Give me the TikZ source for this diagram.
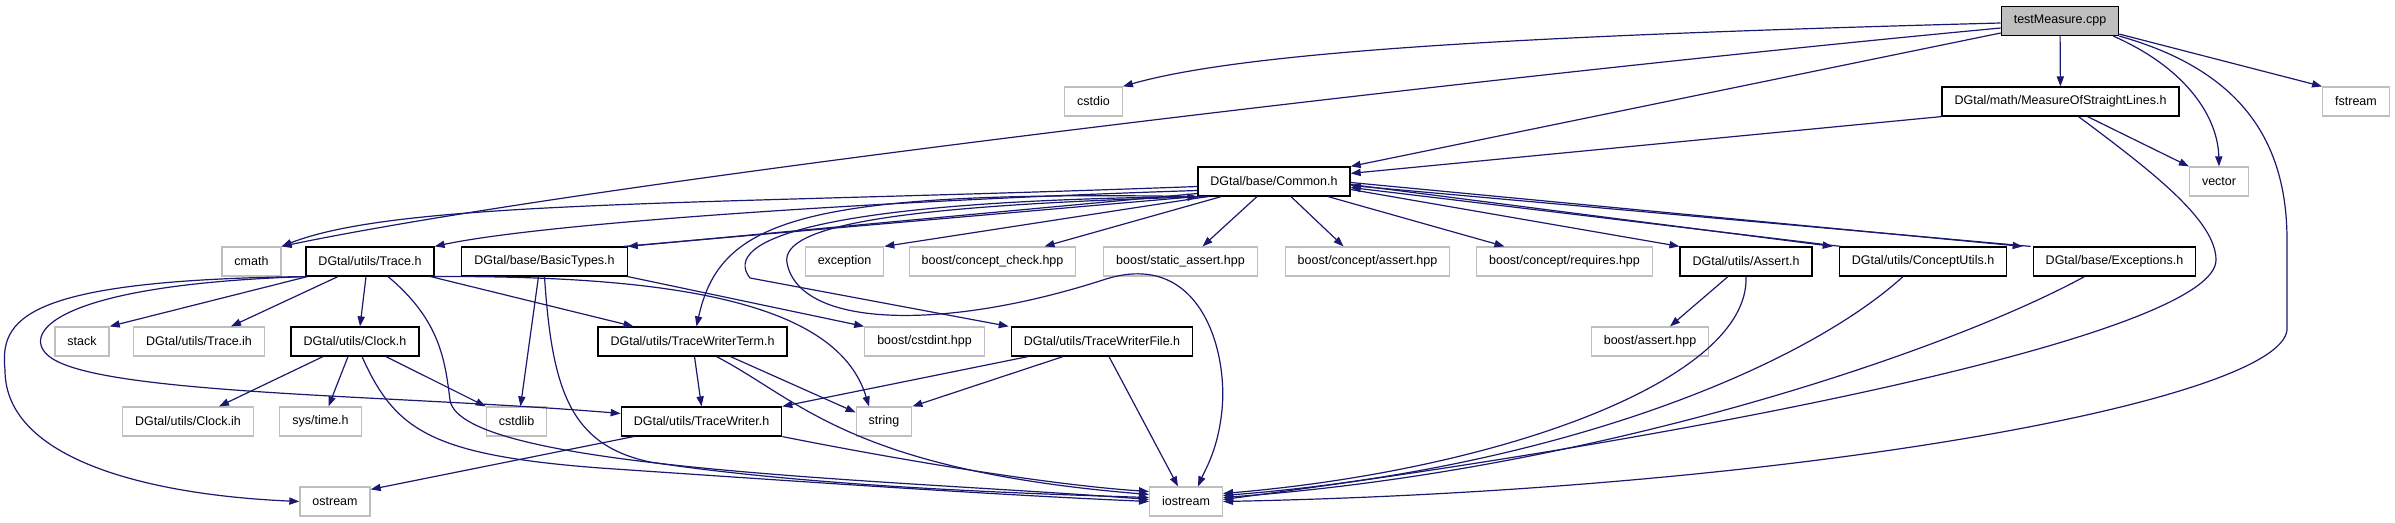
\documentclass[tikz,border=0pt]{standalone}
\usepackage{fontspec}
\setmainfont{Liberation Sans}
\usetikzlibrary{arrows.meta}
\definecolor{inclblue}{HTML}{191970}
\definecolor{sysgray}{HTML}{BFBFBF}
\tikzset{
  box/.style={rectangle,inner xsep=6.25pt,inner ysep=0pt,minimum height=14.5pt,
    font=\fontsize{6.25}{7.5}\selectfont,line width=0.6pt},
  header/.style={box,draw=black,fill=white},
  sysheader/.style={box,draw=sysgray,fill=white},
  mainfile/.style={box,draw=black,fill=sysgray},
  incl/.style={draw=inclblue,line width=0.6pt,-{Triangle[length=5pt,width=3.6pt]}}
}

\begin{document}
\begin{tikzpicture}[x=0.5pt,y=-0.5pt]
  \useasboundingbox (0,0) rectangle (2395,523);
  % files of the project
  \node[mainfile] (tm) at (2060,21) {testMeasure.cpp};
  \node[header] (mosl) at (2060.5,101.5) {DGtal/math/MeasureOfStraightLines.h};
  \node[header] (common) at (1274,181.5) {DGtal/base/Common.h};
  \node[header] (trace) at (370,261.5) {DGtal/utils/Trace.h};
  \node[header] (basictypes) at (544.5,261.5) {DGtal/base/BasicTypes.h};
  \node[header] (assert) at (1746,261.5) {DGtal/utils/Assert.h};
  \node[header] (conceptutils) at (1923,261.5) {DGtal/utils/ConceptUtils.h};
  \node[header] (exceptions) at (2114.5,261.5) {DGtal/base/Exceptions.h};
  \node[header] (clock) at (355,341.5) {DGtal/utils/Clock.h};
  \node[header] (twterm) at (692.5,341.5) {DGtal/utils/TraceWriterTerm.h};
  \node[header] (twfile) at (1102,341.5) {DGtal/utils/TraceWriterFile.h};
  \node[header] (twriter) at (701.5,421.5) {DGtal/utils/TraceWriter.h};
  % system and library headers
  \foreach \name/\x/\y/\txt in {
      cstdio/1093.5/101.5/cstdio, fstream/2356/101.5/fstream,
      vector/2219/181.5/vector,
      cmath/251.5/261.5/cmath, exception/844.5/261.5/exception,
      conceptcheck/992.5/261.5/{boost/concept\_check.hpp},
      staticassert/1180.5/261.5/{boost/static\_assert.hpp},
      conceptassert/1367.5/261.5/{boost/concept/assert.hpp},
      conceptreq/1564.5/261.5/{boost/concept/requires.hpp},
      stack/82/341.5/stack, traceih/199/341.5/{DGtal/utils/Trace.ih},
      cstdint/924.5/341.5/{boost/cstdint.hpp},
      boostassert/1650/341.5/{boost/assert.hpp},
      clockih/188/421.5/{DGtal/utils/Clock.ih}, systime/320.5/421.5/{sys/time.h},
      cstdlib/516.5/421.5/cstdlib, string/884/421.5/string,
      ostream/335/501.5/ostream, iostream/1186/501.5/iostream}
    \node[sysheader] (\name) at (\x,\y) {\txt};

  % testMeasure.cpp
  \draw[incl] ([yshift=-1pt]tm.west) .. controls (1550,35) and (1250,50) .. (cstdio.north east);
  \draw[incl] ([yshift=-3.5pt]tm.west) .. controls (1500,75) and (600,180) .. (cmath.north east);
  \draw[incl] ([yshift=-6pt]tm.west) -- (common.north east);
  \draw[incl] (tm) -- (mosl);
  \draw[incl] ([xshift=-3pt]tm.south east) .. controls (2190,70) and (2218,120) .. (vector.north);
  \draw[incl] (tm.south east) .. controls (2240,70) and (2287,140) .. (2287,240)
    -- (2287,330) .. controls (2280,400) and (1800,490) .. (iostream.east);
  \draw[incl] ([yshift=1pt]tm.south east) -- (fstream.north west);
  % MeasureOfStraightLines.h
  \draw[incl] (mosl.south west) -- ([yshift=-3.5pt]common.north east);
  \draw[incl] ([xshift=13.5pt]mosl.south) -- (vector.north west);
  \draw[incl] ([xshift=9pt]mosl.south) .. controls (2150,170) and (2216,220) .. (2216,260)
    .. controls (2216,330) and (1750,430) .. ([yshift=1pt]iostream.east);
  % Common.h
  \draw[incl] ([yshift=-2.5pt]common.west) .. controls (700,205) and (400,200) .. (cmath.north east);
  \draw[incl] ([yshift=-4.5pt]common.west) .. controls (900,200) and (550,222) .. (trace.north east);
  \draw[incl] ([yshift=-6pt]common.west) -- (basictypes.north east);
  \draw[incl] ([xshift=-2pt]basictypes.north east) -- ([yshift=-7.5pt]common.west);
  \draw[incl] (common.south west) .. controls (800,190) and (720,220) .. ([xshift=2pt]twterm.north);
  \draw[incl] ([xshift=3pt]common.south west) .. controls (820,200) and (720,240) .. (750,278)
    -- ([xshift=-1pt]twfile.north west);
  \draw[incl] ([xshift=6pt]common.south west) .. controls (900,205) and (780,225) .. (787,263)
    .. controls (800,330) and (950,330) .. (1106,279)
    .. controls (1200,250) and (1228,350) .. (1222,410)
    .. controls (1218,450) and (1205,470) .. ([xshift=6pt]iostream.north);
  \draw[incl] ([xshift=5pt]common.south west) -- (exception.north east);
  \draw[incl] ([xshift=12pt]common.south west) -- ([xshift=26pt]conceptcheck.north);
  \draw[incl] ([xshift=-8.5pt]common.south) -- ([xshift=11pt]staticassert.north);
  \draw[incl] ([xshift=8.5pt]common.south) -- ([xshift=-12pt]conceptassert.north);
  \draw[incl] ([xshift=27pt]common.south) -- ([xshift=-30pt]conceptreq.north);
  \draw[incl] ([yshift=-4pt]common.east) -- (assert.north west);
  \draw[incl] ([yshift=-1.5pt]common.east) -- ([xshift=-3pt]conceptutils.north west);
  \draw[incl] ([xshift=1pt]conceptutils.north west) -- ([yshift=-3pt]common.east);
  \draw[incl] ([yshift=-0.5pt]common.east) -- ([xshift=-5pt]exceptions.north west);
  \draw[incl] ([xshift=-1pt]exceptions.north west) -- ([yshift=-2pt]common.east);
  % Trace.h
  \draw[incl] ([xshift=1pt]trace.south west) -- (stack.north east);
  \draw[incl] ([xshift=-16pt]trace.south) -- ([xshift=16pt]traceih.north);
  \draw[incl] ([xshift=-2pt]trace.south) -- ([xshift=2.5pt]clock.north);
  \draw[incl] ([xshift=9pt]trace.south) .. controls (440,320) and (445,360) .. (450,400)
    .. controls (460,470) and (900,480) .. ([yshift=1pt]iostream.west);
  \draw[incl] ([xshift=-2pt]trace.south east) -- ([xshift=-29.5pt]twterm.north);
  \draw[incl] (trace.south east) .. controls (700,275) and (840,310) .. ([xshift=-7.5pt]string.north);
  \draw[incl] (trace.south west) .. controls (20,280) and (0,320) .. (5,370)
    .. controls (5,460) and (150,495) .. (ostream.west);
  \draw[incl] (trace.south west) .. controls (50,285) and (20,335) .. (50,357)
    .. controls (100,395) and (400,395) .. ([yshift=4pt]twriter.west);
  % BasicTypes.h
  \draw[incl] ([xshift=-3pt]basictypes.south) -- ([xshift=2pt]cstdlib.north);
  \draw[incl] (basictypes.south) .. controls (552,390) and (570,445) .. (650,462)
    .. controls (800,485) and (1000,493) .. ([yshift=2pt]iostream.west);
  \draw[incl] (basictypes.south east) -- (cstdint.north west);
  % Clock.h
  \draw[incl] ([xshift=-16pt]clock.south) -- ([xshift=15.5pt]clockih.north);
  \draw[incl] ([xshift=-3.5pt]clock.south) -- ([xshift=4pt]systime.north);
  \draw[incl] ([xshift=15.5pt]clock.south) -- (cstdlib.north west);
  \draw[incl] ([xshift=3.5pt]clock.south) .. controls (395,430) and (430,455) .. (600,468)
    .. controls (850,485) and (1000,495) .. (iostream.west);
  % TraceWriterTerm.h, TraceWriter.h, TraceWriterFile.h
  \draw[incl] ([xshift=1pt]twterm.south) -- (twriter.north);
  \draw[incl] ([xshift=19pt]twterm.south) -- ([yshift=-3pt]string.north west);
  \draw[incl] ([xshift=12pt]twterm.south) .. controls (800,400) and (850,470) .. ([yshift=3.5pt]iostream.west);
  \draw[incl] ([xshift=-34pt]twriter.south) -- ([yshift=-1.5pt]ostream.north east);
  \draw[incl] (twriter.south east) .. controls (900,460) and (1050,485) .. ([yshift=5pt]iostream.west);
  \draw[incl] ([xshift=-37pt]twfile.south) -- (twriter.north east);
  \draw[incl] ([xshift=-19.5pt]twfile.south) -- (string.north east);
  \draw[incl] ([xshift=3.5pt]twfile.south) -- ([xshift=-4pt]iostream.north);
  % Assert.h, ConceptUtils.h, Exceptions.h
  \draw[incl] ([xshift=-9pt]assert.south) -- ([xshift=10pt]boostassert.north);
  \draw[incl] (assert.south) .. controls (1750,380) and (1500,470) .. ([yshift=4pt]iostream.east);
  \draw[incl] ([xshift=-10pt]conceptutils.south) .. controls (1800,370) and (1550,470) .. ([yshift=3pt]iostream.east);
  \draw[incl] ([xshift=-15pt]exceptions.south) .. controls (1950,350) and (1600,470) .. ([yshift=2pt]iostream.east);
\end{tikzpicture}
\end{document}
